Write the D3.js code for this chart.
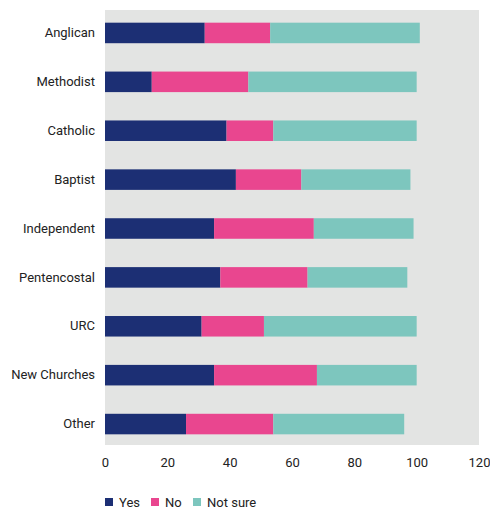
<!DOCTYPE html>
<html>
<head>
<meta charset="utf-8">
<script src="https://cdn.jsdelivr.net/npm/d3@7"></script>
<style>
  body { margin: 0; background: #fff; }
  svg { display: block; font-family: Roboto, "Open Sans", sans-serif; }
</style>
</head>
<body>
<svg></svg>
<script>
// denominations, top to bottom
let denominations = ['Anglican', 'Methodist', 'Catholic', 'Baptist', 'Independent',
                     'Pentencostal', 'URC', 'New Churches', 'Other'];
let yesValues     = [32, 15, 39, 42, 35, 37, 31, 35, 26];
let noValues      = [21, 31, 15, 21, 32, 28, 20, 33, 28];
let notSureValues = [48, 54, 46, 35, 32, 32, 49, 32, 42];
let seriesNames   = ['Yes', 'No', 'Not sure'];
let xTicks        = [0, 20, 40, 60, 80, 100, 120];

let width = 490, height = 512;
let colors = d3.scaleOrdinal()
                .domain(seriesNames)
                .range(['#1c2f74', '#e9468f', '#7dc6be']);

let rows = denominations.map((d, i) => ({
  name: d,
  'Yes': yesValues[i],
  'No': noValues[i],
  'Not sure': notSureValues[i]
}));

let stacked = d3.stack().keys(seriesNames)(rows);

let svg = d3.select('svg')
              .attr('width', width)
              .attr('height', height);

let x = d3.scaleLinear()
            .domain([0, 120])
            .range([105, 479]);

let y = d3.scaleBand()
            .domain(denominations)
            .range([8.5, 448.5])
            .paddingInner(0.58)
            .paddingOuter(0.29);

// grey plot background
svg.append('rect')
    .attr('x', x(0))
    .attr('y', 10)
    .attr('width', x(120) - x(0))
    .attr('height', 435)
    .attr('fill', '#e3e4e3');

let layers = svg.append('g')
                .selectAll('g')
                .data(stacked)
                .enter()
                .append('g')
                .attr('fill', d => colors(d.key));

layers.selectAll('rect')
        .data(d => d)
        .enter()
        .append('rect')
        .attr('x', d => x(d[0]))
        .attr('width', d => x(d[1]) - x(d[0]))
        .attr('y', d => y(d.data.name))
        .attr('height', y.bandwidth());

// category labels
let yAxis = svg.append('g')
                .attr('transform', `translate(${x(0)},0)`)
                .call(d3.axisLeft(y).tickSize(0).tickPadding(10));
yAxis.select('.domain').remove();
yAxis.selectAll('text')
      .attr('font-size', 13)
      .attr('font-family', 'Roboto, sans-serif')
      .attr('fill', '#222');

// value axis
let xAxis = svg.append('g')
                .attr('transform', 'translate(0,455)')
                .call(d3.axisBottom(x).tickValues(xTicks).tickSize(0).tickPadding(3));
xAxis.select('.domain').remove();
xAxis.selectAll('text')
      .attr('font-size', 13)
      .attr('font-family', 'Roboto, sans-serif')
      .attr('fill', '#222');

// legend
let legendX = [105, 151, 193];
let legend = svg.append('g')
                .selectAll('g')
                .data(seriesNames)
                .enter()
                .append('g')
                .attr('transform', (d, i) => `translate(${legendX[i]},498)`);

legend.append('rect')
        .attr('width', 8)
        .attr('height', 8)
        .attr('fill', d => colors(d));

legend.append('text')
        .attr('x', 14)
        .attr('y', 8.5)
        .attr('font-size', 13)
        .attr('fill', '#222')
        .text(d => d);
</script>
</body>
</html>
